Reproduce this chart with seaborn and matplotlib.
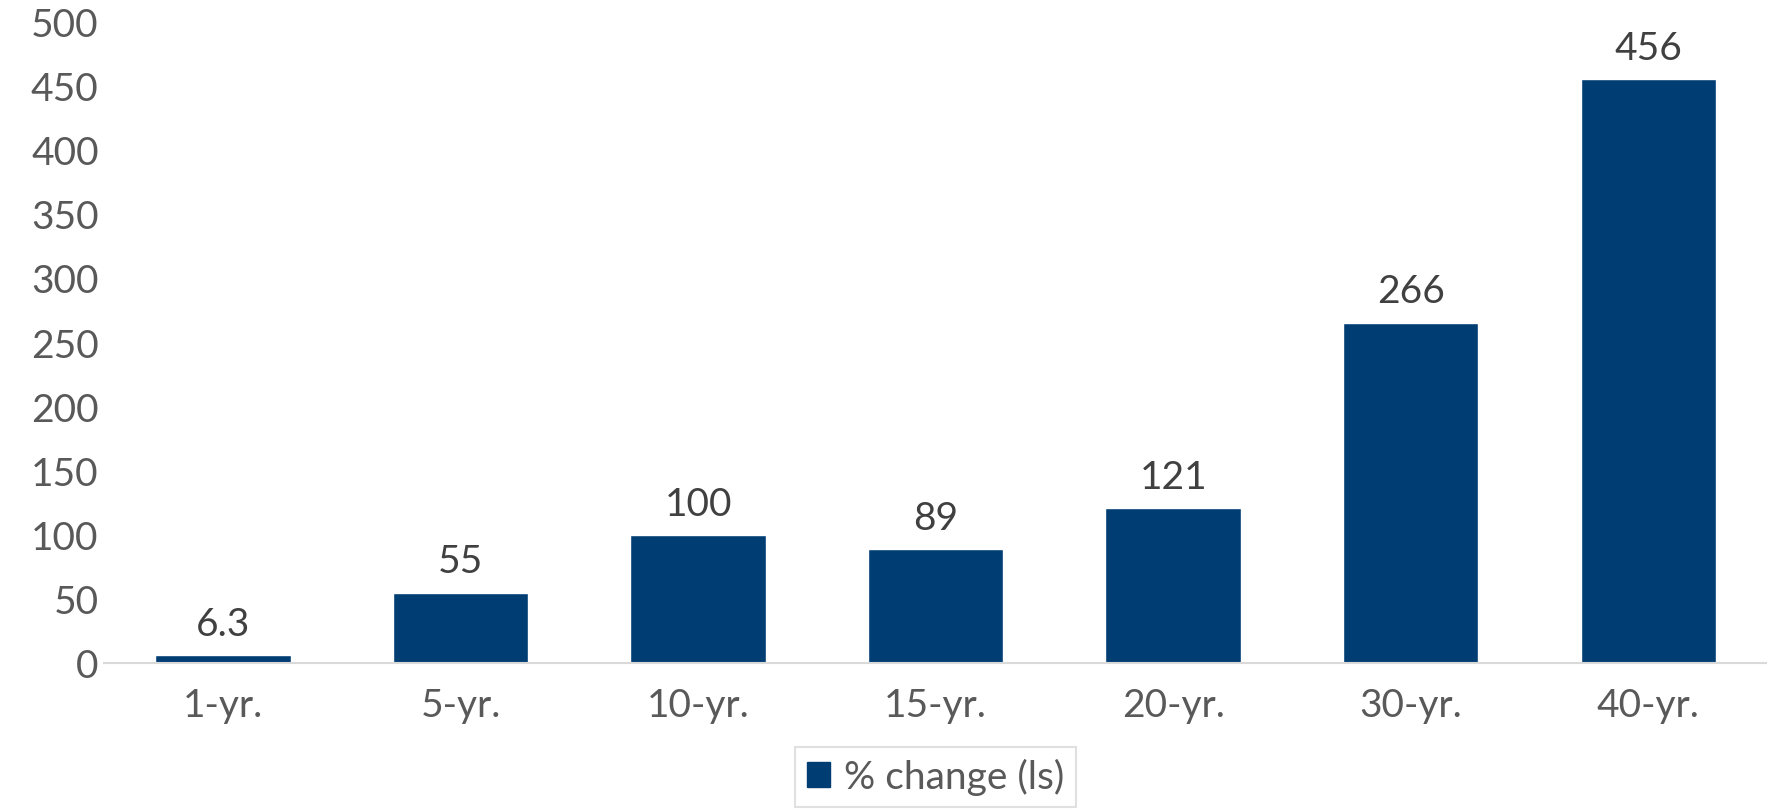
import numpy as np
import pandas as pd
import seaborn as sns
import matplotlib.pyplot as plt
from matplotlib.patches import Patch

# data
tenors = ["1-yr.", "5-yr.", "10-yr.", "15-yr.", "20-yr.", "30-yr.", "40-yr."]
pct_change = [6.3, 55, 100, 89, 121, 266, 456]
labels = ["6.3", "55", "100", "89", "121", "266", "456"]

df = pd.DataFrame({"tenor": tenors, "pct": pct_change})

sns.set_theme(style="white")
plt.rcParams["font.family"] = ["Lato", "DejaVu Sans"]

bar_col = "#003d73"
fig = plt.figure(figsize=(17.67, 8.10), dpi=100)
ax = fig.add_axes([0.059, 0.181, 0.941, 0.791])

sns.barplot(data=df, x="tenor", y="pct", color=bar_col, width=0.57,
            saturation=1, ax=ax)

for i, (v, t) in enumerate(zip(pct_change, labels)):
    ax.annotate(t, (i, v), xytext=(0, 9), textcoords="offset points",
                ha="center", va="bottom", fontsize=28, color="#404040")

ax.set_ylim(0, 500)
ax.set_xlim(-0.5, 6.5)
ax.set_yticks(range(0, 501, 50))
ax.set_xlabel("")
ax.set_ylabel("")
ax.tick_params(axis="both", labelsize=28, labelcolor="#595959", length=0)
ax.tick_params(axis="x", pad=18)
ax.tick_params(axis="y", pad=4)
for s in ["top", "right", "left"]:
    ax.spines[s].set_visible(False)
ax.spines["bottom"].set_color("#d9d9d9")
ax.spines["bottom"].set_linewidth(1.5)

leg = ax.legend(handles=[Patch(color=bar_col, label="% change (ls)")],
                loc="upper center", bbox_to_anchor=(0.5, -0.13),
                fontsize=28, frameon=True, fancybox=False,
                handlelength=0.6, handleheight=0.6, handletextpad=0.35,
                borderpad=0.3, borderaxespad=0)
leg.get_frame().set_edgecolor("#d9d9d9")
leg.get_frame().set_linewidth(1.5)
for txt in leg.get_texts():
    txt.set_color("#595959")

fig.savefig("out.png", dpi=100)
